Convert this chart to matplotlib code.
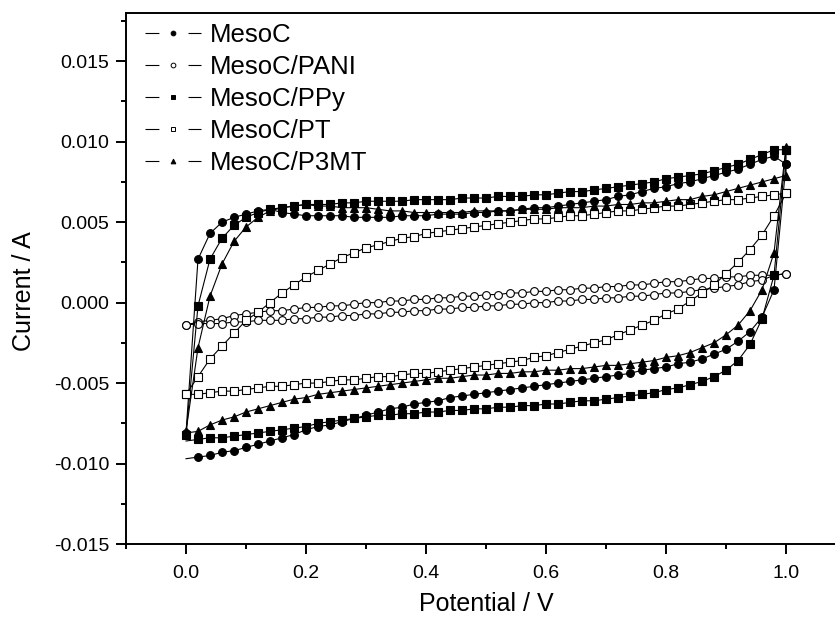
import numpy as np
import matplotlib
matplotlib.use("Agg")
import matplotlib.pyplot as plt
from matplotlib.lines import Line2D
from matplotlib.ticker import MultipleLocator, FormatStrFormatter

plt.rcParams['font.family'] = ['Liberation Sans', 'DejaVu Sans']
plt.rcParams['axes.unicode_minus'] = False
plt.rcParams['lines.scale_dashes'] = False

# potential grid of the sweep (V), forward 0 -> 1, reverse 1 -> 0
E_fwd = np.round(np.linspace(0.0, 1.0, 51), 2)
E_rev = E_fwd[::-1]

# current (A), anodic sweep then cathodic sweep
mesoc_fwd = [-0.0081, 0.0027, 0.0043, 0.0050, 0.0053, 0.0055, 0.0057, 0.0058, 0.0056, 0.0055,
             0.0054, 0.0054, 0.0054, 0.0054, 0.0053, 0.0053, 0.0053, 0.0053, 0.0054, 0.0054,
             0.0054, 0.0055, 0.0055, 0.0055, 0.0056, 0.0056, 0.0057, 0.0057, 0.0058, 0.0059,
             0.0059, 0.0060, 0.0061, 0.0062, 0.0063, 0.0064, 0.0066, 0.0067, 0.0069, 0.0071,
             0.0072, 0.0074, 0.0075, 0.0077, 0.0079, 0.0081, 0.0083, 0.0086, 0.0089, 0.0091,
             0.0086]
mesoc_rev = [0.0086, 0.0008, -0.0009, -0.0018, -0.0024, -0.0029, -0.0032, -0.0035, -0.0037, -0.0038,
             -0.0040, -0.0041, -0.0042, -0.0044, -0.0045, -0.0046, -0.0047, -0.0048, -0.0049, -0.0050,
             -0.0051, -0.0052, -0.0053, -0.0054, -0.0055, -0.0056, -0.0057, -0.0058, -0.0059, -0.0061,
             -0.0062, -0.0063, -0.0065, -0.0066, -0.0068, -0.0070, -0.0072, -0.0074, -0.0076, -0.0077,
             -0.0079, -0.0082, -0.0084, -0.0086, -0.0088, -0.0090, -0.0092, -0.0093, -0.0095, -0.0096,
             -0.0097]

pani_fwd = [-0.0014, -0.0012, -0.0011, -0.0010, -0.0008, -0.0007, -0.0006, -0.0005, -0.0005, -0.0004,
            -0.0003, -0.0003, -0.0002, -0.0002, -0.0001, 0.0000, 0.0000, 0.0001, 0.0001, 0.0002,
            0.0002, 0.0003, 0.0003, 0.0004, 0.0004, 0.0005, 0.0005, 0.0006, 0.0006, 0.0007,
            0.0007, 0.0008, 0.0008, 0.0009, 0.0009, 0.0010, 0.0010, 0.0011, 0.0011, 0.0012,
            0.0013, 0.0013, 0.0014, 0.0015, 0.0015, 0.0016, 0.0016, 0.0017, 0.0017, 0.0017,
            0.0018]
pani_rev = [0.0018, 0.0017, 0.0014, 0.0013, 0.0011, 0.0010, 0.0009, 0.0008, 0.0007, 0.0006,
            0.0006, 0.0005, 0.0004, 0.0004, 0.0003, 0.0003, 0.0002, 0.0002, 0.0001, 0.0001,
            0.0000, 0.0000, -0.0001, -0.0001, -0.0002, -0.0002, -0.0003, -0.0003, -0.0004, -0.0004,
            -0.0005, -0.0005, -0.0006, -0.0006, -0.0007, -0.0007, -0.0008, -0.0008, -0.0009, -0.0009,
            -0.0010, -0.0010, -0.0011, -0.0011, -0.0011, -0.0012, -0.0012, -0.0013, -0.0013, -0.0013,
            -0.0014]

ppy_fwd = [-0.0082, -0.0002, 0.0027, 0.0040, 0.0048, 0.0053, 0.0056, 0.0058, 0.0059, 0.0060,
           0.0061, 0.0061, 0.0061, 0.0062, 0.0062, 0.0063, 0.0063, 0.0063, 0.0063, 0.0064,
           0.0064, 0.0064, 0.0064, 0.0065, 0.0065, 0.0065, 0.0066, 0.0066, 0.0066, 0.0067,
           0.0067, 0.0068, 0.0069, 0.0069, 0.0070, 0.0071, 0.0072, 0.0073, 0.0074, 0.0075,
           0.0077, 0.0078, 0.0079, 0.0080, 0.0082, 0.0084, 0.0086, 0.0089, 0.0092, 0.0095,
           0.0095]
ppy_rev = [0.0095, 0.0017, -0.0010, -0.0026, -0.0036, -0.0042, -0.0046, -0.0049, -0.0051, -0.0053,
           -0.0054, -0.0056, -0.0057, -0.0058, -0.0059, -0.0060, -0.0061, -0.0061, -0.0062, -0.0063,
           -0.0063, -0.0064, -0.0064, -0.0065, -0.0065, -0.0066, -0.0066, -0.0067, -0.0067, -0.0068,
           -0.0068, -0.0069, -0.0069, -0.0070, -0.0070, -0.0071, -0.0072, -0.0073, -0.0074, -0.0075,
           -0.0077, -0.0078, -0.0079, -0.0080, -0.0081, -0.0082, -0.0083, -0.0084, -0.0084, -0.0085,
           -0.0086]

pt_fwd = [-0.0057, -0.0046, -0.0035, -0.0027, -0.0019, -0.0011, -0.0006, 0.0000, 0.0006, 0.0011,
          0.0016, 0.0020, 0.0024, 0.0028, 0.0031, 0.0034, 0.0036, 0.0038, 0.0040, 0.0041,
          0.0043, 0.0044, 0.0045, 0.0046, 0.0047, 0.0048, 0.0049, 0.0050, 0.0051, 0.0052,
          0.0052, 0.0053, 0.0054, 0.0054, 0.0055, 0.0056, 0.0057, 0.0057, 0.0058, 0.0059,
          0.0060, 0.0060, 0.0061, 0.0062, 0.0063, 0.0064, 0.0064, 0.0065, 0.0066, 0.0067,
          0.0068]
pt_rev = [0.0068, 0.0054, 0.0042, 0.0033, 0.0025, 0.0018, 0.0011, 0.0006, 0.0001, -0.0004,
          -0.0007, -0.0011, -0.0014, -0.0017, -0.0020, -0.0023, -0.0025, -0.0027, -0.0029, -0.0031,
          -0.0033, -0.0034, -0.0036, -0.0037, -0.0038, -0.0039, -0.0040, -0.0041, -0.0042, -0.0043,
          -0.0044, -0.0044, -0.0045, -0.0046, -0.0046, -0.0047, -0.0048, -0.0048, -0.0049, -0.0050,
          -0.0050, -0.0051, -0.0052, -0.0052, -0.0053, -0.0054, -0.0055, -0.0055, -0.0056, -0.0057,
          -0.0057]

p3mt_fwd = [-0.0080, -0.0028, 0.0004, 0.0024, 0.0038, 0.0047, 0.0053, 0.0057, 0.0059, 0.0060,
            0.0061, 0.0060, 0.0060, 0.0059, 0.0059, 0.0059, 0.0058, 0.0057, 0.0057, 0.0056,
            0.0056, 0.0056, 0.0056, 0.0056, 0.0057, 0.0057, 0.0057, 0.0057, 0.0058, 0.0058,
            0.0058, 0.0059, 0.0059, 0.0059, 0.0060, 0.0060, 0.0061, 0.0061, 0.0062, 0.0062,
            0.0063, 0.0064, 0.0064, 0.0066, 0.0067, 0.0069, 0.0071, 0.0073, 0.0075, 0.0077,
            0.0079]
p3mt_rev = [0.0097, 0.0031, 0.0008, -0.0005, -0.0014, -0.0020, -0.0025, -0.0028, -0.0031, -0.0033,
            -0.0034, -0.0036, -0.0037, -0.0038, -0.0039, -0.0039, -0.0040, -0.0041, -0.0041, -0.0042,
            -0.0042, -0.0043, -0.0043, -0.0044, -0.0044, -0.0045, -0.0045, -0.0046, -0.0047, -0.0047,
            -0.0048, -0.0049, -0.0050, -0.0051, -0.0052, -0.0053, -0.0054, -0.0055, -0.0056, -0.0057,
            -0.0059, -0.0060, -0.0062, -0.0064, -0.0066, -0.0068, -0.0071, -0.0073, -0.0076, -0.0080,
            -0.0081]

labels = ["MesoC", "MesoC/PANI", "MesoC/PPy", "MesoC/PT", "MesoC/P3MT"]
series = [(mesoc_fwd, mesoc_rev), (pani_fwd, pani_rev), (ppy_fwd, ppy_rev),
          (pt_fwd, pt_rev), (p3mt_fwd, p3mt_rev)]
markers = ['o', 'o', 's', 's', '^']
faces = ['k', 'w', 'k', 'w', 'k']
sizes = [5.6, 5.6, 5.2, 5.2, 6.0]
# the last cathodic point is drawn as a plain line end for these two
skip_last = [True, False, True, False, False]

fig = plt.figure(figsize=(8.35, 6.24), dpi=100)
ax = fig.add_axes([0.1509, 0.1282, 0.8623, 0.8510])

for (fwd, rev), m, fc, ms, skip in zip(series, markers, faces, sizes, skip_last):
    E = np.concatenate([E_fwd, E_rev])
    I = np.concatenate([fwd, rev])
    n = len(E) - 1 if skip else len(E)
    ax.plot(E, I, color='k', lw=0.8, marker=m, ms=ms, mfc=fc, mec='k', mew=0.8,
            markevery=list(range(n)))

ax.set_xlim(-0.1, 1.1)
ax.set_ylim(-0.015, 0.018)
ax.xaxis.set_major_locator(MultipleLocator(0.2))
ax.xaxis.set_minor_locator(MultipleLocator(0.1))
ax.yaxis.set_major_locator(MultipleLocator(0.005))
ax.yaxis.set_minor_locator(MultipleLocator(0.0025))
ax.xaxis.set_major_formatter(FormatStrFormatter('%.1f'))
ax.yaxis.set_major_formatter(FormatStrFormatter('%.3f'))
ax.tick_params(which='both', direction='out', width=1.4, labelsize=14, top=False, right=False)
ax.tick_params(which='major', length=7)
ax.tick_params(which='minor', length=3.6)
ax.tick_params(axis='x', pad=8)
ax.tick_params(axis='y', pad=5)
for s in ax.spines.values():
    s.set_linewidth(1.4)

ax.set_xlabel("Potential / V", fontsize=18, labelpad=7)
ax.set_ylabel("Current / A", fontsize=18, labelpad=13)
ax.yaxis.label.set_y(0.476)

# legend entries: short line, marker, short line
handles = [Line2D([], [], color='k', lw=0.8, dashes=(10, 21), marker=m, ms=3.4,
                  mfc=fc, mec='k', mew=0.7)
           for m, fc in zip(markers, faces)]
ax.legend(handles, labels, loc='upper left', bbox_to_anchor=(0.026, 0.981),
          frameon=False, fontsize=18.5, handlelength=2.2, handletextpad=0.35,
          labelspacing=0.31, borderpad=0, borderaxespad=0, numpoints=1)

fig.savefig("out.png", dpi=100)
